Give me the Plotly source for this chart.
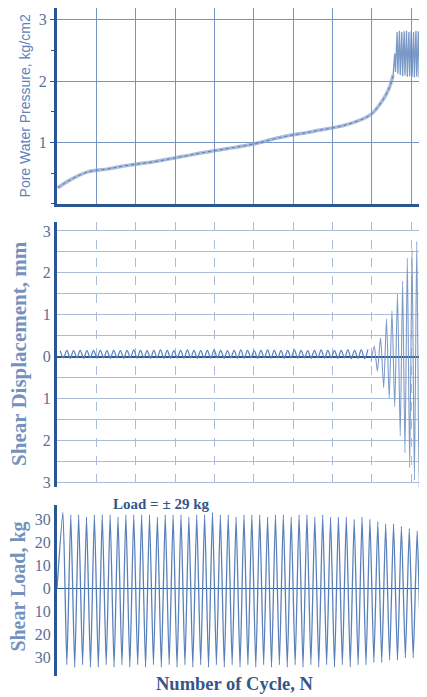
import plotly.graph_objects as go

# page has an 8px body margin, so the figure is sized to fill the remaining window
OFF = 8
W, H = 427 - OFF, 697 - OFF

# ---------------- data ----------------
# Pore water pressure (kg/cm2) vs cycle number N
pore_N = [0.1, 1.4, 3.9, 6.5, 8.6, 12.5, 15.9, 18.8, 21.7, 24.8, 28.3, 32.5, 36.8, 39.8, 41.0, 41.8, 42.3, 42.7]
pore_val = [0.26, 0.37, 0.52, 0.57, 0.62, 0.69, 0.77, 0.84, 0.90, 0.97, 1.08, 1.18, 1.29, 1.45, 1.62, 1.78, 1.92, 2.10]
# oscillating band once liquefaction sets in
pore_band_N = [42.7, 42.9, 43.0, 43.2, 43.3, 43.5, 43.6, 43.8, 43.9, 44.1, 44.2, 44.4, 44.5, 44.7, 44.8, 45.0,
               45.1, 45.3, 45.4, 45.6, 45.7, 45.9, 46.0, 46.2, 46.3, 46.5, 46.6, 46.8, 46.9, 47.0]
pore_band_val = [2.10, 2.45, 2.15, 2.80, 2.12, 2.82, 2.10, 2.80, 2.08, 2.81, 2.09, 2.82, 2.07, 2.80, 2.08, 2.82,
                 2.07, 2.80, 2.06, 2.82, 2.07, 2.81, 2.06, 2.82, 2.07, 2.80, 2.06, 2.82, 2.07, 2.80]

# Shear displacement (mm): extrema of the trace
disp_small_N = [0.4, 0.83, 1.25, 1.68, 2.1, 2.53, 2.95, 3.38, 3.8, 4.23, 4.65, 5.08, 5.5, 5.93, 6.35, 6.78,
                7.2, 7.63, 8.05, 8.48, 8.9, 9.33, 9.75, 10.18, 10.6, 11.03, 11.45, 11.88, 12.3, 12.73,
                13.15, 13.58, 14.0, 14.43, 14.85, 15.28, 15.7, 16.13, 16.55, 16.98, 17.4, 17.83, 18.25,
                18.68, 19.1, 19.53, 19.95, 20.38, 20.8, 21.23, 21.65, 22.08, 22.5, 22.93, 23.35, 23.78,
                24.2, 24.63, 25.05, 25.48, 25.9, 26.33, 26.75, 27.18, 27.6, 28.03, 28.45, 28.88, 29.3,
                29.73, 30.15, 30.58, 31.0, 31.43, 31.85, 32.28, 32.7, 33.13, 33.55, 33.98, 34.4, 34.83,
                35.25, 35.68, 36.1, 36.53, 36.95, 37.38, 37.8, 38.23, 38.65, 39.08, 39.5]
disp_small_val = [0.14, -0.03, 0.15, -0.04, 0.14, -0.03, 0.15, -0.04, 0.14, -0.03, 0.15, -0.04, 0.15, -0.03,
                  0.14, -0.04, 0.15, -0.03, 0.14, -0.04, 0.15, -0.03, 0.16, -0.04, 0.15, -0.03, 0.14, -0.04,
                  0.15, -0.03, 0.16, -0.04, 0.15, -0.04, 0.14, -0.03, 0.15, -0.04, 0.16, -0.03, 0.15, -0.04,
                  0.14, -0.03, 0.15, -0.04, 0.16, -0.03, 0.15, -0.04, 0.14, -0.03, 0.15, -0.04, 0.16, -0.04,
                  0.15, -0.03, 0.14, -0.04, 0.15, -0.03, 0.16, -0.04, 0.15, -0.03, 0.14, -0.04, 0.15, -0.03,
                  0.16, -0.04, 0.15, -0.03, 0.14, -0.04, 0.15, -0.03, 0.16, -0.04, 0.15, -0.03, 0.14, -0.04,
                  0.15, -0.03, 0.16, -0.05, 0.15, -0.04, 0.16, -0.05, 0.17]
disp_big_N = [39.9, 40.3, 40.7, 41.1, 41.5, 41.85, 42.2, 42.55, 42.9, 43.25, 43.6, 43.9, 44.2, 44.5,
              44.8, 45.1, 45.4, 45.7, 46.0, 46.3, 46.6, 46.9, 47.1]
disp_big_val = [-0.12, 0.25, -0.35, 0.45, -0.75, 0.9, -1.0, 1.1, -1.2, 1.5, -1.9, 1.8, -2.3, 2.35,
                -2.65, 2.55, -2.95, 2.75, -3.15, 2.8, -3.2, 2.85, -3.0]

# Shear load (kg): peaks and troughs per cycle
load_N = [0.0, 0.75, 1.25, 1.75, 2.25, 2.75, 3.25, 3.75, 4.25, 4.75, 5.25, 5.75, 6.25, 6.75, 7.25, 7.75,
          8.25, 8.75, 9.25, 9.75, 10.25, 10.75, 11.25, 11.75, 12.25, 12.75, 13.25, 13.75, 14.25, 14.75,
          15.25, 15.75, 16.25, 16.75, 17.25, 17.75, 18.25, 18.75, 19.25, 19.75, 20.25, 20.75, 21.25,
          21.75, 22.25, 22.75, 23.25, 23.75, 24.25, 24.75, 25.25, 25.75, 26.25, 26.75, 27.25, 27.75,
          28.25, 28.75, 29.25, 29.75, 30.25, 30.75, 31.25, 31.75, 32.25, 32.75, 33.25, 33.75, 34.25,
          34.75, 35.25, 35.75, 36.25, 36.75, 37.25, 37.75, 38.25, 38.75, 39.25, 39.75, 40.25, 40.75,
          41.25, 41.75, 42.25, 42.75, 43.25, 43.75, 44.25, 44.75, 45.25, 45.75, 46.25, 46.75, 47.25]
load_val = [0, 33, -33, 32, -34, 32, -33, 31, -34, 32, -34, 32, -33, 32, -34, 31, -33, 32, -34, 32, -33,
            32, -34, 32, -33, 31, -34, 32, -33, 32, -34, 32, -33, 31, -34, 32, -33, 32, -34, 33, -33, 32,
            -34, 32, -33, 31, -34, 32, -33, 32, -34, 32, -33, 31, -34, 32, -33, 32, -34, 31, -33, 32, -34,
            32, -33, 31, -34, 32, -33, 31, -34, 31, -33, 31, -34, 30, -33, 31, -33, 30, -32, 29, -32, 28,
            -31, 28, -31, 27, -30, 26, -30, 25, -29, 25, -29]

# tick labels
pore_ticks = [1, 2, 3]
disp_ticks = [-3, -2, -1, 0, 1, 2, 3]
disp_ticktext = ["3", "2", "1", "0", "1", "2", "3"]
load_ticks = [-30, -20, -10, 0, 10, 20, 30]
load_ticktext = ["30", "20", "10", "0", "10", "20", "30"]

# ---------------- figure ----------------
AX = "#2b5694"
TICKC = "#5a7096"
GRID1 = "#7895c2"
GRID2 = "#aabcd8"
TRACE = "#5a80ba"
serif = "Liberation Serif, Times New Roman, serif"


def py(p):  # screen pixel (y) -> paper fraction
    return min(1.0, max(0.0, 1 - (p - OFF) / H))


def px(p):  # screen pixel (x) -> paper fraction
    return min(1.0, max(0.0, (p - OFF) / W))


fig = go.Figure()

fig.add_trace(go.Scatter(x=pore_N, y=pore_val, mode="lines",
                         line=dict(color="rgba(130,160,205,0.7)", width=3.5, shape="spline"),
                         xaxis="x", yaxis="y", hoverinfo="skip"))
fig.add_trace(go.Scatter(x=pore_N, y=pore_val, mode="lines",
                         line=dict(color="rgba(70,105,165,0.8)", width=1, dash="dot", shape="spline"),
                         xaxis="x", yaxis="y", hoverinfo="skip"))
fig.add_trace(go.Scatter(x=pore_band_N, y=pore_band_val, mode="lines",
                         line=dict(color="rgba(100,135,190,0.85)", width=1.3),
                         xaxis="x", yaxis="y", hoverinfo="skip"))

fig.add_trace(go.Scatter(x=disp_small_N, y=disp_small_val, mode="lines",
                         line=dict(color=TRACE, width=1.2, shape="spline"),
                         xaxis="x2", yaxis="y2", hoverinfo="skip"))
fig.add_trace(go.Scatter(x=disp_big_N, y=disp_big_val, mode="lines",
                         line=dict(color="#7c9aca", width=1.1, shape="spline", smoothing=0.6),
                         xaxis="x2", yaxis="y2", hoverinfo="skip"))

fig.add_trace(go.Scatter(x=load_N, y=load_val, mode="lines",
                         line=dict(color=TRACE, width=1.3, shape="spline", smoothing=0.5),
                         xaxis="x3", yaxis="y3", hoverinfo="skip"))

xdom = [px(57), 1]
xcommon = dict(domain=xdom, range=[0, 47], showticklabels=False, ticks="", zeroline=False, fixedrange=True)

fig.update_layout(
    width=W, height=H,
    margin=dict(l=0, r=0, t=0, b=0),
    paper_bgcolor="white", plot_bgcolor="white",
    showlegend=False,
    xaxis=dict(**xcommon, anchor="y", showgrid=True, dtick=5, tick0=0, gridcolor=GRID1, gridwidth=1.2,
               showline=True, linecolor=AX, linewidth=3),
    yaxis=dict(domain=[py(205), 1.0], range=[0, 3.19], anchor="x",
               tickvals=pore_ticks, showgrid=True, gridcolor=GRID1, gridwidth=1.4,
               zeroline=False, showline=True, linecolor=AX, linewidth=3,
               ticks="outside", ticklen=4, tickcolor=AX,
               minor=dict(dtick=0.5, ticks="outside", ticklen=3, tickcolor=AX, showgrid=False),
               tickfont=dict(family=serif, size=16, color=TICKC)),
    xaxis2=dict(**xcommon, anchor="y2", showgrid=True, dtick=5, tick0=0, gridcolor=GRID2, gridwidth=1,
                griddash="dash", showline=False),
    yaxis2=dict(domain=[py(490), py(223)], range=[-3.12, 3.22], anchor="x2",
                tickvals=disp_ticks, ticktext=disp_ticktext, showgrid=True, gridcolor=GRID2, gridwidth=1,
                minor=dict(dtick=0.5, tick0=0, showgrid=True, gridcolor=GRID2, gridwidth=1, ticks=""),
                zeroline=True, zerolinecolor=AX, zerolinewidth=2,
                showline=True, linecolor=AX, linewidth=3, ticks="",
                tickfont=dict(family=serif, size=16, color=TICKC)),
    xaxis3=dict(**xcommon, anchor="y3", showgrid=False, showline=False),
    yaxis3=dict(domain=[py(680), py(508)], range=[-37.9, 36.2], anchor="x3",
                tickvals=load_ticks, ticktext=load_ticktext, showgrid=False,
                zeroline=True, zerolinecolor=AX, zerolinewidth=1.3,
                showline=True, linecolor=AX, linewidth=3, ticks="",
                tickfont=dict(family=serif, size=16, color=TICKC)),
)

ann = [
    dict(text="Pore Water Pressure, kg/cm2", x=px(25), y=py(107), textangle=-90,
         font=dict(family="Liberation Sans, Arial, sans-serif", size=14, color="#5f82ba")),
    dict(text="<b>Shear Displacement, mm</b>", x=px(19), y=py(356), textangle=-90,
         font=dict(family=serif, size=21, color="#7591bd")),
    dict(text="<b>Shear Load, kg</b>", x=px(19), y=py(590), textangle=-90,
         font=dict(family=serif, size=20, color="#7591bd")),
    dict(text="<b>Load = ± 29 kg</b>", x=px(161), y=py(507),
         font=dict(family=serif, size=15, color="#35568a")),
    dict(text="<b>Number of Cycle, N</b>", x=px(235), y=py(688),
         font=dict(family=serif, size=18.5, color="#35568a")),
]
for a in ann:
    a.update(xref="paper", yref="paper", showarrow=False, xanchor="center", yanchor="middle")
fig.update_layout(annotations=ann)

fig.write_html("out.html")
